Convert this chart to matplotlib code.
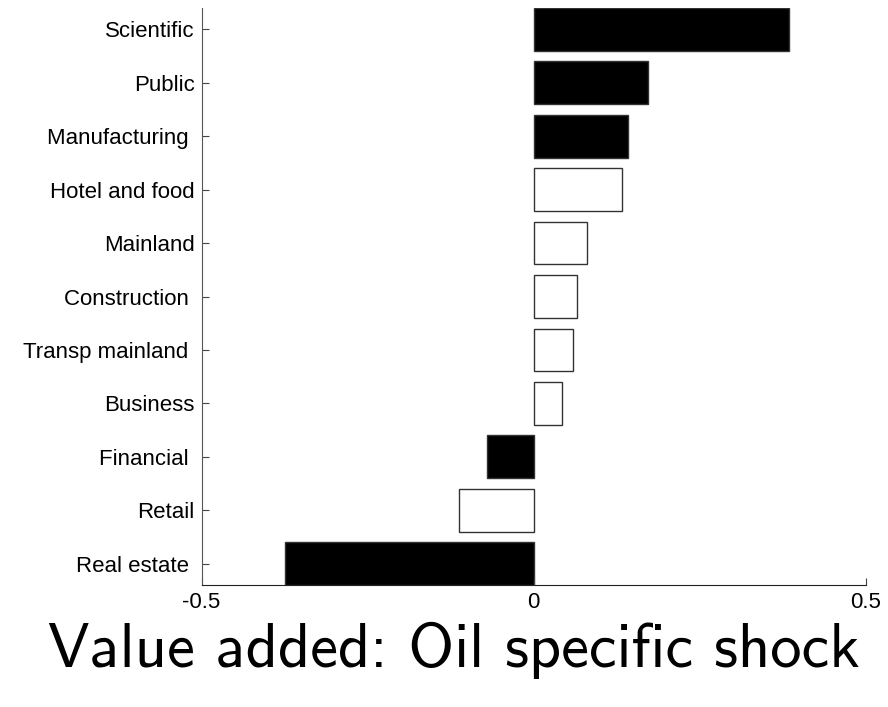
import matplotlib
matplotlib.use('Agg')
from matplotlib import pyplot as plt
import numpy as np

sectors = ['Scientific', 'Public', 'Manufacturing ', 'Hotel and food', 'Mainland',
           'Construction ', 'Transp mainland ', 'Business', 'Financial ', 'Retail',
           'Real estate ']
values = [0.384, 0.172, 0.142, 0.133, 0.080, 0.065, 0.059, 0.042, -0.070, -0.112, -0.374]
filled = [True, True, True, False, False, False, False, False, True, False, True]

fig = plt.figure(figsize=(8.88, 7.07), dpi=100)
ax = fig.add_axes([0.227, 0.1726, 0.748, 0.816])

pos = np.arange(len(sectors))[::-1] + 1
colors = ['black' if f else 'white' for f in filled]
ax.barh(pos, values, height=0.8, color=colors, edgecolor='#333333', linewidth=1.0)

ax.set_xlim(-0.5, 0.5)
ax.set_ylim(0.6, 11.4)
ax.set_xticks([-0.5, 0, 0.5])
ax.set_xticklabels(['-0.5', '0', '0.5'])
ax.set_yticks(pos)
ax.set_yticklabels(sectors)
ax.tick_params(direction='in', length=5, color='#444444', labelsize=16, pad=5)
for lab in ax.get_xticklabels() + ax.get_yticklabels():
    lab.set_fontfamily('Liberation Sans')

ax.spines['top'].set_visible(False)
ax.spines['right'].set_visible(False)
ax.spines['left'].set_color('#555555')
ax.spines['bottom'].set_color('#222222')

fig.text(0.511, 0.08, 'Value added: Oil specific shock', ha='center', va='center',
         fontsize=45, fontname='cmss10')

fig.savefig('out.png', dpi=100)
